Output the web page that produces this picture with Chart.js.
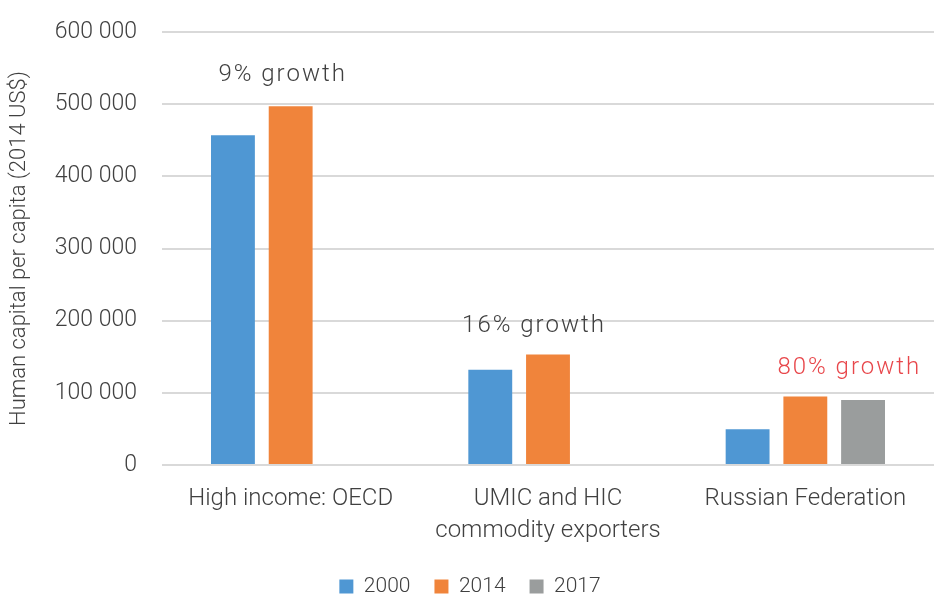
<!DOCTYPE html>
<html>
<head>
<meta charset="utf-8">
<script src="https://cdn.jsdelivr.net/npm/chart.js@4.4.1/dist/chart.umd.min.js"></script>
<style>
  html, body { margin: 0; padding: 0; background: #fff; }
  #wrap { width: 934px; height: 597px; }
</style>
</head>
<body>
<div id="wrap"><canvas id="chart" width="934" height="597"></canvas></div>
<script>
const categories = [
  ["High income: OECD"],
  ["UMIC and HIC", "commodity exporters"],
  ["Russian Federation"]
];
const values2000 = [457000, 132000, 49500];
const values2014 = [497000, 153000, 95000];
const values2017 = [null, null, 90000];

// growth notes: text, category index, y value where text sits, colour
const noteTexts = ["9% growth", "16% growth", "80% growth"];
const noteCategory = [0, 1, 2];
const noteValues = [540000, 192000, 135000];
const noteColors = ["#404040", "#404040", "#e8474b"];
const noteShift = [-8, -14, 44];

const fontFamily = "Roboto, 'DejaVu Sans', sans-serif";
const textColor = "#404040";

const notesPlugin = {
  id: "growthNotes",
  afterDatasetsDraw(chart) {
    const ctx = chart.ctx;
    const x = chart.scales.x;
    const y = chart.scales.y;
    ctx.save();
    ctx.font = "300 24px " + fontFamily;
    ctx.letterSpacing = "2px";
    ctx.textAlign = "center";
    ctx.textBaseline = "middle";
    noteTexts.forEach((t, i) => {
      ctx.fillStyle = noteColors[i];
      ctx.fillText(t, x.getPixelForValue(noteCategory[i]) + noteShift[i], y.getPixelForValue(noteValues[i]));
    });
    ctx.restore();
  }
};

new Chart(document.getElementById("chart"), {
  type: "bar",
  data: {
    labels: categories,
    datasets: [
      { label: "2000", data: values2000, backgroundColor: "#4f97d3" },
      { label: "2014", data: values2014, backgroundColor: "#f0843b" },
      { label: "2017", data: values2017, backgroundColor: "#9a9d9d" }
    ]
  },
  options: {
    responsive: false,
    animation: false,
    layout: { padding: { top: 32, right: 0, left: 6, bottom: -10 } },
    datasets: {
      bar: { categoryPercentage: 0.673, barPercentage: 0.76 }
    },
    plugins: {
      legend: {
        position: "bottom",
        labels: {
          boxWidth: 14,
          boxHeight: 14,
          padding: 24,
          color: textColor,
          font: { family: fontFamily, size: 21, weight: 300 }
        }
      },
      tooltip: { enabled: false }
    },
    scales: {
      x: {
        grid: { display: false },
        border: { display: false },
        afterFit: (s) => { s.height = 87; },
        ticks: {
          color: textColor,
          padding: 10,
          maxRotation: 0,
          font: { family: fontFamily, size: 24, weight: 300, lineHeight: 1.33 }
        }
      },
      y: {
        min: 0,
        max: 600000,
        border: { display: false },
        grid: { color: "#d9d9d9", lineWidth: 2, drawTicks: true, tickLength: 25, tickColor: "rgba(0,0,0,0)" },
        afterFit: (s) => { s.width = 156; },
        ticks: {
          stepSize: 100000,
          padding: 0,
          color: textColor,
          font: { family: fontFamily, size: 23, weight: 300 },
          callback: (v) => String(v).replace(/\B(?=(\d{3})+(?!\d))/g, " ")
        },
        title: {
          display: true,
          text: "Human capital per capita (2014 US$)",
          color: textColor,
          padding: { top: 0, bottom: 0 },
          font: { family: fontFamily, size: 22, weight: 300 }
        }
      }
    }
  },
  plugins: [notesPlugin]
});
</script>
</body>
</html>
